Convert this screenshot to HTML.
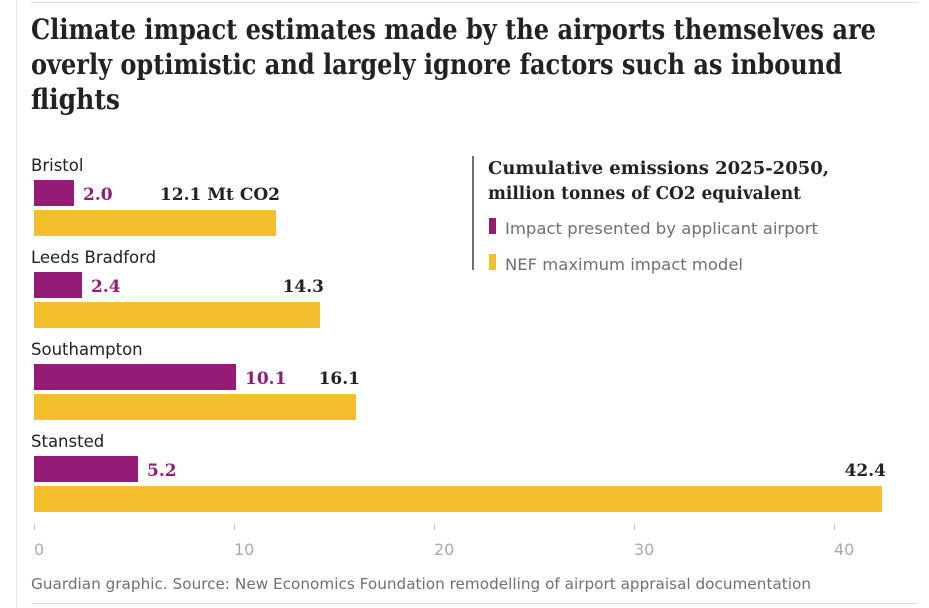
<!DOCTYPE html>
<html><head><meta charset="utf-8"><style>
body{margin:0;background:#fff;width:929px;height:608px;overflow:hidden}
svg{display:block}
.t{font-family:"DejaVu Serif","Liberation Serif",serif;font-weight:bold;fill:#222}
.s{font-family:"DejaVu Sans","Liberation Sans",sans-serif}
</style></head><body>
<svg width="929" height="608">
<line x1="16.5" y1="0" x2="16.5" y2="608" stroke="#e6e6e6"/>
<line x1="31" y1="2.5" x2="918" y2="2.5" stroke="#dcdcdc"/>
<line x1="31" y1="603.5" x2="918" y2="603.5" stroke="#dcdcdc"/>
<g class="t" font-size="28">
<text x="31" y="39" textLength="845" lengthAdjust="spacingAndGlyphs">Climate impact estimates made by the airports themselves are</text>
<text x="31" y="74" textLength="811" lengthAdjust="spacingAndGlyphs">overly optimistic and largely ignore factors such as inbound</text>
<text x="31" y="109" textLength="89" lengthAdjust="spacingAndGlyphs">flights</text>
</g>
<g>
<line x1="473" y1="156" x2="473" y2="270" stroke="#707070" stroke-width="2"/>
<text class="t" x="488" y="174" font-size="17.5" textLength="341" lengthAdjust="spacingAndGlyphs">Cumulative emissions 2025-2050,</text>
<text class="t" x="488" y="199" font-size="17.5" textLength="313" lengthAdjust="spacingAndGlyphs">million tonnes of CO2 equivalent</text>
<rect x="489" y="218" width="7" height="16" fill="#951c76"/>
<text class="s" x="505" y="234" font-size="16" fill="#707070" textLength="313" lengthAdjust="spacingAndGlyphs">Impact presented by applicant airport</text>
<rect x="489" y="254" width="7" height="16" fill="#f5be2c"/>
<text class="s" x="505" y="270" font-size="16" fill="#707070" textLength="238" lengthAdjust="spacingAndGlyphs">NEF maximum impact model</text>
</g>
<g id="bars"></g>
<g id="axis"></g>
<text class="s" x="31" y="589" font-size="15" fill="#707070" textLength="780" lengthAdjust="spacingAndGlyphs">Guardian graphic. Source: New Economics Foundation remodelling of airport appraisal documentation</text>
</svg>
<script>
const categories=["Bristol","Leeds Bradford","Southampton","Stansted"];
const airportValues=[2.0,2.4,10.1,5.2];
const nefValues=[12.1,14.3,16.1,42.4];
const nefLabels=["12.1 Mt CO2","14.3","16.1","42.4"];
const ticks=[0,10,20,30,40];
const NS="http://www.w3.org/2000/svg";
const x=v=>34+v*20;
const groupTop=i=>180+i*92;
function mk(tag,attrs,parent){const e=document.createElementNS(NS,tag);for(const k in attrs)e.setAttribute(k,attrs[k]);parent.appendChild(e);return e;}
const bars=document.getElementById('bars');
categories.forEach((c,i)=>{
  const y=groupTop(i);
  const lab=mk('text',{x:31,y:y-9,'font-size':16.5,fill:'#222','class':'s'},bars);
  lab.textContent=c;
  
  
  const p=mk('rect',{x:x(0),y:y,width:x(airportValues[i])-x(0),height:26,fill:'#951c76'},bars);
  
  
  const q=mk('rect',{x:x(0),y:y+30,width:x(nefValues[i])-x(0),height:26,fill:'#f5be2c'},bars);
  
  
  const pv=mk('text',{x:x(airportValues[i])+9,y:y+20,'font-size':17,'class':'t'},bars);
  pv.style.fill='#951c76';
  pv.textContent=airportValues[i].toFixed(1);
  
  
  const nv=mk('text',{x:x(nefValues[i])+4,y:y+20,'font-size':17,'text-anchor':'end','class':'t'},bars);
  nv.textContent=nefLabels[i];
  
  
});
const axis=document.getElementById('axis');
ticks.forEach(t=>{
  const l=mk('line',{x1:x(t)+0.5,x2:x(t)+0.5,y1:523,y2:530,stroke:'#cccccc'},axis);
  
  
  const tx=mk('text',{x:x(t),y:555,'font-size':16,fill:'#aaaaaa','class':'s'},axis);
  tx.textContent=t;
  
  
});
</script>
</body></html>
